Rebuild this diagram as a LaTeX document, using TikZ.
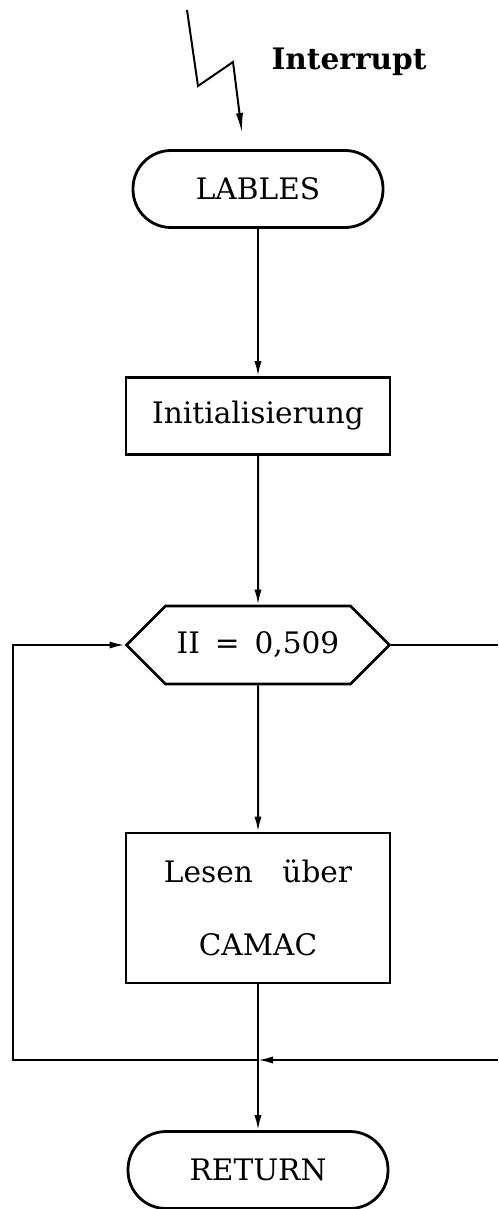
\documentclass[tikz,border=0pt]{standalone}
\usepackage{fontspec}
\setmainfont{DejaVu Serif}
\usepackage{tikz}
\usetikzlibrary{arrows.meta, positioning, shapes.symbols}

\begin{document}
\begin{tikzpicture}[
        x=0.5pt, y=-0.5pt,
        terminal/.style={rectangle, draw, line width=1.4pt, rounded corners=19pt, minimum width=125pt, minimum height=38.5pt, align=center, font=\fontsize{14.8}{18}\selectfont},
        block/.style={rectangle, draw, line width=1.4pt, minimum width=132pt, align=center, font=\fontsize{14.8}{18}\selectfont},
        decision/.style={signal, signal to=east and west, draw, line width=1.4pt, minimum width=131.5pt, minimum height=39pt, inner xsep=2pt, font=\fontsize{14.8}{18}\selectfont},
        arrow/.style={-{Latex[length=7.5pt, width=3.6pt]}, line width=1pt},
        label/.style={font=\fontsize{14.8}{18}\selectfont\bfseries}
    ]
        \useasboundingbox (0,0) rectangle (498,1209);
        \node[terminal] (lables) at (258,189) {LABLES};
        \node[block, minimum height=38.5pt] (init) at (258,416) {Initialisierung};
        \node[decision] (test) at (258,645) {II\enspace=\enspace0,509};
        \node[block, minimum height=75pt] (read) at (258,908) {Lesen\quad über\\[18.5pt]CAMAC};
        \node[terminal, minimum width=130pt] (ret) at (258,1170) {RETURN};
        \node[label] (irq) at (349,62) {Interrupt};
        % lightning
        \coordinate (z0) at (187,10);
        \coordinate (z1) at (198,86);
        \coordinate (z2) at (233,62);
        \coordinate (z3) at (242,133);
        % loop
        \coordinate (rr) at (498,645);
        \coordinate (rb) at (498,1060);
        \coordinate (join) at (258,1060);
        \coordinate (lb) at (13,1060);
        \draw[arrow, -{Latex[length=10pt, width=3.6pt]}] (z0) -- (z1) -- (z2) -- (z3);
        \draw[arrow] (lables) -- (init);
        \draw[arrow] (init) -- (test);
        \draw[arrow] (test) -- (read);
        \draw[arrow] (read) -- (ret);
        \draw[line width=1pt] (test.east) -- (rr);
        \draw[arrow] (rb) -- (join);
        \draw[arrow] (join) -- (lb) |- (test.west);
    \end{tikzpicture}
\end{document}
